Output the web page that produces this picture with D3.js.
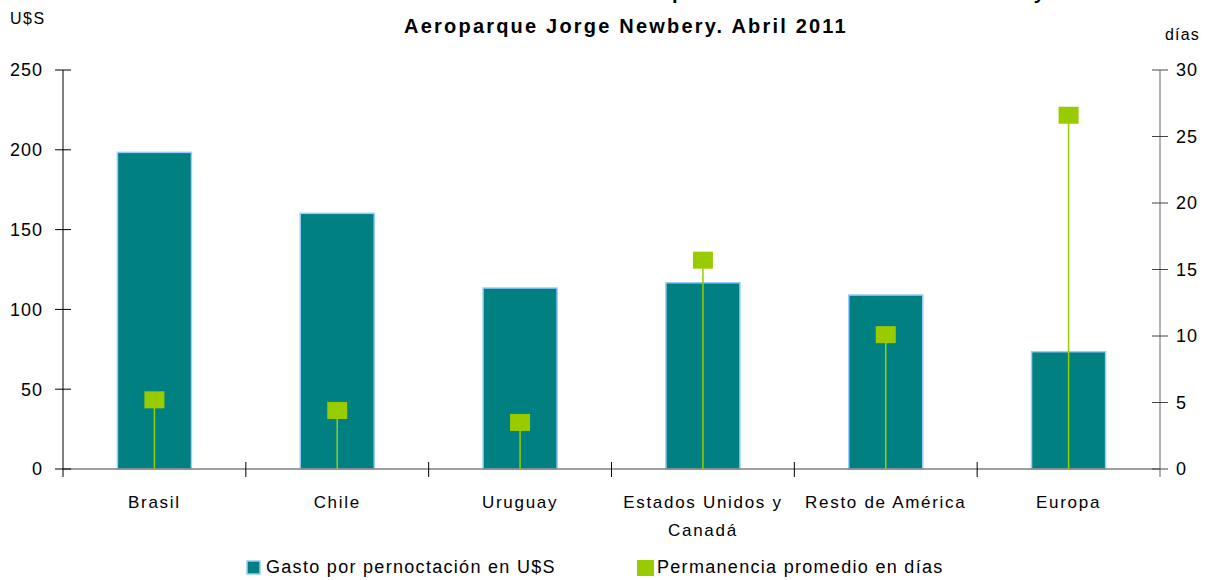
<!DOCTYPE html>
<html>
<head>
<meta charset="utf-8">
<script src="https://cdn.jsdelivr.net/npm/d3@7"></script>
<style>
  body { margin: 0; background: #fff; }
  svg text { font-family: "Liberation Sans", Arial, sans-serif; fill: #000; }
</style>
</head>
<body>
<svg id="chart" width="1215" height="580" viewBox="0 0 1215 580"></svg>
<script>
// data
const categories = [["Brasil"], ["Chile"], ["Uruguay"], ["Estados Unidos y", "Canadá"], ["Resto de América"], ["Europa"]];
const gasto = [198.4, 160.2, 113.4, 116.7, 109, 73.5];
const permanencia = [5.2, 4.4, 3.5, 15.7, 10.1, 26.6];
const leftTicks = [0, 50, 100, 150, 200, 250];
const rightTicks = [0, 5, 10, 15, 20, 25, 30];
const seriesNames = ["Gasto por pernoctación en U$S", "Permanencia promedio en días"];

const svg = d3.select("#chart");
const margin = { top: 70, bottom: 111, left: 63, right: 55 };
const width = 1215 - margin.left - margin.right;
const height = 580 - margin.top - margin.bottom;

const teal = "#008080";
const green = "#99cc00";

const x = d3.scaleBand()
  .domain(d3.range(categories.length))
  .range([0, width])
  .paddingInner(0.595)
  .paddingOuter(0.2975);

const yLeft = d3.scaleLinear().domain([0, 250]).range([height, 0]);
const yRight = d3.scaleLinear().domain([0, 30]).range([height, 0]);

const g = svg.append("g").attr("transform", `translate(${margin.left} ${margin.top})`);

// title (its first line is cut off by the top edge)
svg.append("text")
  .attr("x", 1047).attr("y", -1)
  .attr("text-anchor", "end")
  .style("font-size", "20px").style("font-weight", "bold").style("letter-spacing", "2.2px")
  .text("Turistas no residentes. Aeropuerto Internacional de Ezeiza y");
svg.append("text")
  .attr("x", 626).attr("y", 33)
  .attr("text-anchor", "middle")
  .style("font-size", "20px").style("font-weight", "bold").style("letter-spacing", "2.2px")
  .text("Aeroparque Jorge Newbery. Abril 2011");

svg.append("text").attr("x", 10).attr("y", 24)
  .style("font-size", "16px").style("letter-spacing", "1.5px").text("U$S");
svg.append("text").attr("x", 1165).attr("y", 40)
  .style("font-size", "16px").style("letter-spacing", "1.2px").text("días");

// bars
g.selectAll("rect.bar")
  .data(gasto)
  .enter()
  .append("rect")
  .attr("class", "bar")
  .attr("x", (d, i) => x(i))
  .attr("y", (d) => yLeft(d))
  .attr("width", x.bandwidth())
  .attr("height", (d) => yLeft(0) - yLeft(d))
  .attr("fill", teal)
  .attr("stroke", "#99ccff")
  .attr("stroke-width", 1.5);

// x axis line with category separators
g.append("line")
  .attr("x1", 0).attr("x2", width)
  .attr("y1", height).attr("y2", height)
  .attr("stroke", "#808080").attr("stroke-width", 1.5);

g.selectAll("line.sep")
  .data(d3.range(1, categories.length))
  .enter()
  .append("line")
  .attr("class", "sep")
  .attr("x1", (d) => d * x.step()).attr("x2", (d) => d * x.step())
  .attr("y1", height - 7).attr("y2", height + 8)
  .attr("stroke", "#000").attr("stroke-width", 1);

// left axis
g.append("line")
  .attr("x1", 0).attr("x2", 0).attr("y1", 0).attr("y2", height + 8)
  .attr("stroke", "#000");
g.selectAll("line.lt")
  .data(leftTicks)
  .enter()
  .append("line")
  .attr("class", "lt")
  .attr("x1", -8).attr("x2", 8)
  .attr("y1", (d) => yLeft(d)).attr("y2", (d) => yLeft(d))
  .attr("stroke", "#000");
g.selectAll("text.lt")
  .data(leftTicks)
  .enter()
  .append("text")
  .attr("class", "lt")
  .attr("x", -20).attr("y", (d) => yLeft(d))
  .attr("dy", "0.36em")
  .attr("text-anchor", "end")
  .style("font-size", "18px").style("letter-spacing", "1px")
  .text((d) => d);

// right axis
g.append("line")
  .attr("x1", width).attr("x2", width).attr("y1", 0).attr("y2", height + 8)
  .attr("stroke", "#666");
g.selectAll("line.rt")
  .data(rightTicks)
  .enter()
  .append("line")
  .attr("class", "rt")
  .attr("x1", width - 8).attr("x2", width + 8)
  .attr("y1", (d) => yRight(d)).attr("y2", (d) => yRight(d))
  .attr("stroke", "#444");
g.selectAll("text.rt")
  .data(rightTicks)
  .enter()
  .append("text")
  .attr("class", "rt")
  .attr("x", width + 16).attr("y", (d) => yRight(d))
  .attr("dy", "0.36em")
  .style("font-size", "18px").style("letter-spacing", "1px")
  .text((d) => d);

// stems and markers
const cx = (i) => x(i) + x.bandwidth() / 2;
g.selectAll("line.stem")
  .data(permanencia)
  .enter()
  .append("line")
  .attr("class", "stem")
  .attr("x1", (d, i) => cx(i)).attr("x2", (d, i) => cx(i))
  .attr("y1", (d) => yRight(d)).attr("y2", height)
  .attr("stroke", green).attr("stroke-width", 1.5);
g.selectAll("rect.mk")
  .data(permanencia)
  .enter()
  .append("rect")
  .attr("class", "mk")
  .attr("x", (d, i) => cx(i) - 10)
  .attr("y", (d) => yRight(d) - 8.5)
  .attr("width", 20).attr("height", 17)
  .attr("fill", green);

// category labels
const labels = g.selectAll("text.cat")
  .data(categories)
  .enter()
  .append("text")
  .attr("class", "cat")
  .attr("text-anchor", "middle")
  .style("font-size", "17px").style("letter-spacing", "1.7px");
labels.selectAll("tspan")
  .data((d, i) => d.map((t) => ({ t, i })))
  .enter()
  .append("tspan")
  .attr("x", (d) => cx(d.i))
  .attr("y", (d, j) => height + 39 + j * 28)
  .text((d) => d.t);

// legend
const leg = svg.append("g").attr("transform", "translate(0 567)");
leg.append("rect").attr("x", 247).attr("y", -6).attr("width", 13).attr("height", 13)
  .attr("fill", teal).attr("stroke", "#99ccff").attr("stroke-width", 1.5);
leg.append("text").attr("x", 266).attr("y", 0).attr("dy", "0.36em")
  .style("font-size", "18px").style("letter-spacing", "1.3px").text(seriesNames[0]);
leg.append("rect").attr("x", 637).attr("y", -7).attr("width", 17).attr("height", 16)
  .attr("fill", green);
leg.append("text").attr("x", 657).attr("y", 0).attr("dy", "0.36em")
  .style("font-size", "18px").style("letter-spacing", "1.3px").text(seriesNames[1]);
</script>
</body>
</html>
